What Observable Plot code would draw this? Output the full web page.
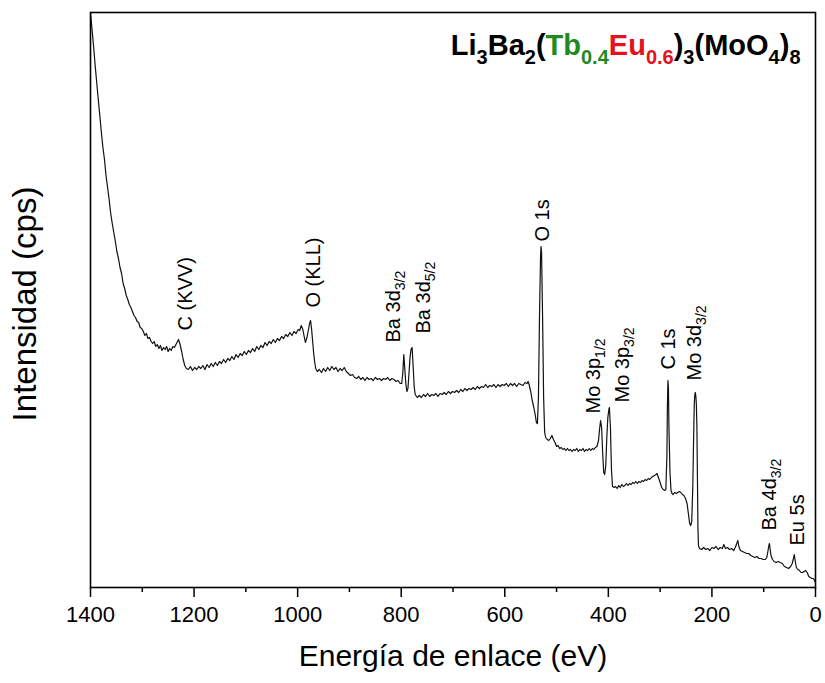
<!DOCTYPE html>
<html>
<head>
<meta charset="utf-8">
<script src="https://cdn.jsdelivr.net/npm/d3@7"></script>
<script src="https://cdn.jsdelivr.net/npm/@observablehq/plot@0.6"></script>
<style>
  html, body { margin: 0; padding: 0; background: white; }
</style>
</head>
<body>
<div id="chart"></div>
<script>
// XPS survey spectrum: [binding energy (eV), intensity (arb. cps)]
const spectrum = [
[1400,574],[1397,558],[1394,541],[1391,522],[1388,505],[1385,488],[1382,472],[1379,455],[1376,440],[1373,428],[1370,412],[1367,400],[1364,388],[1361,374],[1358,364],[1355,355],[1352,346],[1349,336],[1346,329],[1343,320],[1340,314],[1337,304],[1334,299],[1331,292],[1328,288],[1325,283],[1322,280],[1319,276],[1316,272],[1313,270],[1310,266],[1307,265],[1304,260],[1301,259],[1298,256],[1295,252],[1292,254],[1289,249],[1286,250],[1283,246],[1280,244],[1277,246],[1274,241],[1271,243],[1268,239],[1265,242],[1262,237],[1259,240],[1256,238],[1253,241],[1250,236],[1247,239],[1244,237],[1241,241],[1238,240],[1235,243],[1232,246],[1230,248],[1227,243],[1224,236],[1221,228],[1218,222],[1215,219],
[1211,218],[1207,221],[1203,217],[1199,220],[1195,218],[1191,221],[1187,219],[1183,222],[1179,218],[1175,223],[1171,220],[1167,224],[1163,221],[1159,225],[1155,222],[1151,226],[1147,224],[1143,228],[1139,225],[1135,229],[1131,227],[1127,231],[1123,228],[1119,233],[1115,230],[1111,234],[1107,232],[1103,236],[1099,233],[1095,237],[1091,235],[1087,239],[1083,236],[1079,241],[1075,238],[1071,242],[1067,240],[1063,245],[1059,242],[1055,246],[1051,244],[1047,248],[1043,245],[1039,249],[1035,247],[1031,251],[1027,249],[1023,253],[1019,251],[1015,255],[1011,252],[1007,256],[1003,254],[999,258],[996,257],[993,262],[990,258],[987,250],[985,245],[982,250],[979,258],[977,264],[975,267],[973,258],[971,246],[969,234],[967,225],[965,219],[962,216],
[958,218],[954,215],[950,219],[946,216],[942,220],[938,217],[934,221],[930,218],[926,220],[922,216],[918,219],[914,217],[910,220],[906,216],[902,214],[898,212],[894,213],[890,210],[886,209],[882,211],[878,208],[874,210],[870,207],[866,210],[862,208],[858,209],[854,207],[850,210],[846,208],[842,209],[838,207],[834,209],[830,208],[826,210],[822,207],[818,209],[814,208],[810,206],[806,207],[802,204],[799,204],[797,214],[795,233],[793,218],[791,203],[789,196],[787,199],[785,214],[783,230],[781,238],[779,240],[777,222],[775,201],[773,193],
[769,190],[765,192],[761,190],[757,193],[753,191],[749,194],[745,191],[741,193],[737,192],[733,194],[729,191],[725,194],[721,193],[717,195],[713,193],[709,196],[705,194],[701,196],[697,195],[693,197],[689,195],[685,198],[681,196],[677,199],[673,197],[669,199],[665,198],[661,200],[657,198],[653,201],[649,199],[645,201],[641,200],[637,203],[633,200],[629,202],[625,201],[621,203],[617,200],[613,203],[609,201],[605,203],[601,202],[597,204],[593,201],[589,204],[585,202],[581,204],[577,201],[573,204],[569,203],[565,202],[561,205],[557,204],[555,206],[553,203],[550,196],[547,187],[544,180],[541,172],[539,165],[537,164],[535,190],[533,270],[531,330],[530,341],[529,335],[527,270],[525,190],[523,155],[521,150],[518,148],[515,147],[512,149],[509,152],[506,148],[503,145],[500,141],[497,142],[494,139],[491,140],[488,138],[485,139],[482,137],[479,139],[476,137],[473,138],[470,136],[467,138],[464,137],[461,139],[458,136],[455,138],[452,137],[449,139],[446,136],[443,138],[440,137],[437,139],[434,137],[431,139],[428,138],[425,140],[422,141],[419,147],[417,158],[415,167],[413,160],[411,135],[409,115],[407,113],[405,122],[403,150],[401,170],[399,178],[398,180],[396,160],[394,118],[392,101],[389,100],[386,101],[383,99],[380,102],[377,100],[374,103],[371,101],[368,102],[365,104],[362,102],[359,104],[356,103],[353,105],[350,104],[347,106],[344,104],[341,106],[338,105],[335,107],[332,106],[329,108],[326,107],[323,109],[320,108],[317,110],[314,111],[311,112],[308,113],[306,114],[304,111],[302,108],[300,105],[297,100],[294,98],[291,97],[289,98],[287,130],[286,180],[285,207],[284,200],[283,160],[281,115],[279,97],[277,94],[275,93],[272,95],[269,94],[266,95],[263,96],[260,95],[257,93],[254,92],[251,89],[248,84],[245,72],[243,64],[241,62],[239,66],[237,100],[235,160],[234,185],[233,193],[232,195],[231,191],[230,182],[229,160],[228,110],[227,60],[226,42],[224,39],[220,38],[216,40],[212,38],[208,39],[204,37],[200,40],[196,39],[192,41],[188,38],[184,40],[180,39],[177,43],[174,39],[170,40],[166,38],[162,39],[158,37],[155,40],[152,44],[150,47],[148,41],[145,37],[141,36],[137,35],[133,34],[129,34],[125,32],[121,31],[117,30],[113,31],[109,29],[105,29],[101,28],[97,28],[94,30],[92,36],[90,42],[89,44],[88,40],[86,32],[83,28],[80,26],[76,25],[72,26],[68,25],[64,24],[60,21],[56,20],[52,19],[48,21],[45,24],[43,28],[41,33],[39,26],[37,20],[34,18],[31,17],[28,15],[25,15],[22,16],[19,17],[16,15],[13,11],[10,10],[7,9],[4,9],[1,6],[0,5]
];

// Peak annotations ("_{...}" marks a subscript)
const peakLabels = ["C (KVV)", "O (KLL)", "Ba 3d_{3/2}", "Ba 3d_{5/2}", "O 1s", "Mo 3p_{1/2}", "Mo 3p_{3/2}", "C 1s", "Mo 3d_{3/2}", "Ba 4d_{3/2}", "Eu 5s"];
const peakEnergy = [1216, 969, 815, 757, 527, 428, 373, 284, 234, 89, 35];
const peakLabelBase = [257, 280, 245, 254, 346, 174, 185, 218, 207, 57, 42];

// Axis
const majorTicks = [1400, 1200, 1000, 800, 600, 400, 200, 0];
const minorTicks = [1300, 1100, 900, 700, 500, 300, 100];
const xTitle = "Energía de enlace (eV)";
const yTitle = "Intensidad (cps)";

// Formula title: [text, "n"ormal | "s"ubscript, color]
const titleParts = [
  ["Li","n",null],["3","s",null],["Ba","n",null],["2","s",null],["(","n",null],
  ["Tb","n","#1f8a1f"],["0.4","s","#1f8a1f"],["Eu","n","#e3121b"],["0.6","s","#e3121b"],
  [")","n",null],["3","s",null],["(MoO","n",null],["4","s",null],[")","n",null],["8","s",null]
];
const titleText = titleParts.map(p => p[0]).join("");

const data = spectrum.map(([e, c]) => ({e, c}));
const peaks = peakLabels.map((t, i) => ({t, e: peakEnergy[i], c: peakLabelBase[i]}));

const chart = Plot.plot({
  width: 825,
  height: 683,
  marginTop: 12,
  marginBottom: 96,
  marginLeft: 90,
  marginRight: 10,
  style: {fontFamily: "'Liberation Sans', Arial, sans-serif", background: "white", color: "black"},
  x: {domain: [1400, 0], label: null},
  y: {domain: [0, 575], axis: null, label: null},
  marks: [
    Plot.axisX({ticks: minorTicks, tickSize: 5, tickFormat: () => "", strokeWidth: 1.5, label: null}),
    Plot.axisX({ticks: majorTicks, tickSize: 10, tickPadding: 9, tickFormat: d3.format("d"), fontSize: 22, strokeWidth: 1.5, label: null}),
    Plot.line(data, {x: "e", y: "c", stroke: "#111", strokeWidth: 1.2}),
    Plot.text(peaks, {x: "e", y: "c", text: "t", rotate: -90, textAnchor: "start", lineAnchor: "middle", fontSize: 20}),
    Plot.text([titleText], {text: d => d, frameAnchor: "top-right", textAnchor: "end", lineAnchor: "middle", dx: -15, dy: 33, fontSize: 29, fontWeight: "bold"}),
    Plot.text([xTitle], {text: d => d, frameAnchor: "bottom", textAnchor: "middle", lineAnchor: "middle", dy: 69, fontSize: 30}),
    Plot.text([yTitle], {text: d => d, frameAnchor: "left", rotate: -90, textAnchor: "middle", lineAnchor: "middle", dx: -65, dy: 4, fontSize: 33}),
    Plot.frame({stroke: "black", strokeWidth: 1.6})
  ]
});

const SVGNS = "http://www.w3.org/2000/svg";
function richText(el, parts, normalSize, subSize, shift) {
  el.textContent = "";
  let off = 0;
  for (const [s, kind, color] of parts) {
    const t = document.createElementNS(SVGNS, "tspan");
    const target = kind === "s" ? shift : 0;
    if (target !== off) { t.setAttribute("dy", target - off); off = target; }
    t.setAttribute("font-size", kind === "s" ? subSize : normalSize);
    if (color) t.setAttribute("fill", color);
    t.textContent = s;
    el.appendChild(t);
  }
}
function parseSubs(str) {
  const parts = [];
  const re = /_\{([^}]*)\}/g;
  let last = 0, m;
  while ((m = re.exec(str))) {
    if (m.index > last) parts.push([str.slice(last, m.index), "n", null]);
    parts.push([m[1], "s", null]);
    last = re.lastIndex;
  }
  if (last < str.length) parts.push([str.slice(last), "n", null]);
  return parts;
}
for (const el of chart.querySelectorAll("text")) {
  const s = el.textContent;
  if (s === titleText) richText(el, titleParts, 29, 20, 9);
  else if (s.includes("_{")) richText(el, parseSubs(s), 20, 14, 5);
}

document.getElementById("chart").appendChild(chart);
</script>
</body>
</html>
